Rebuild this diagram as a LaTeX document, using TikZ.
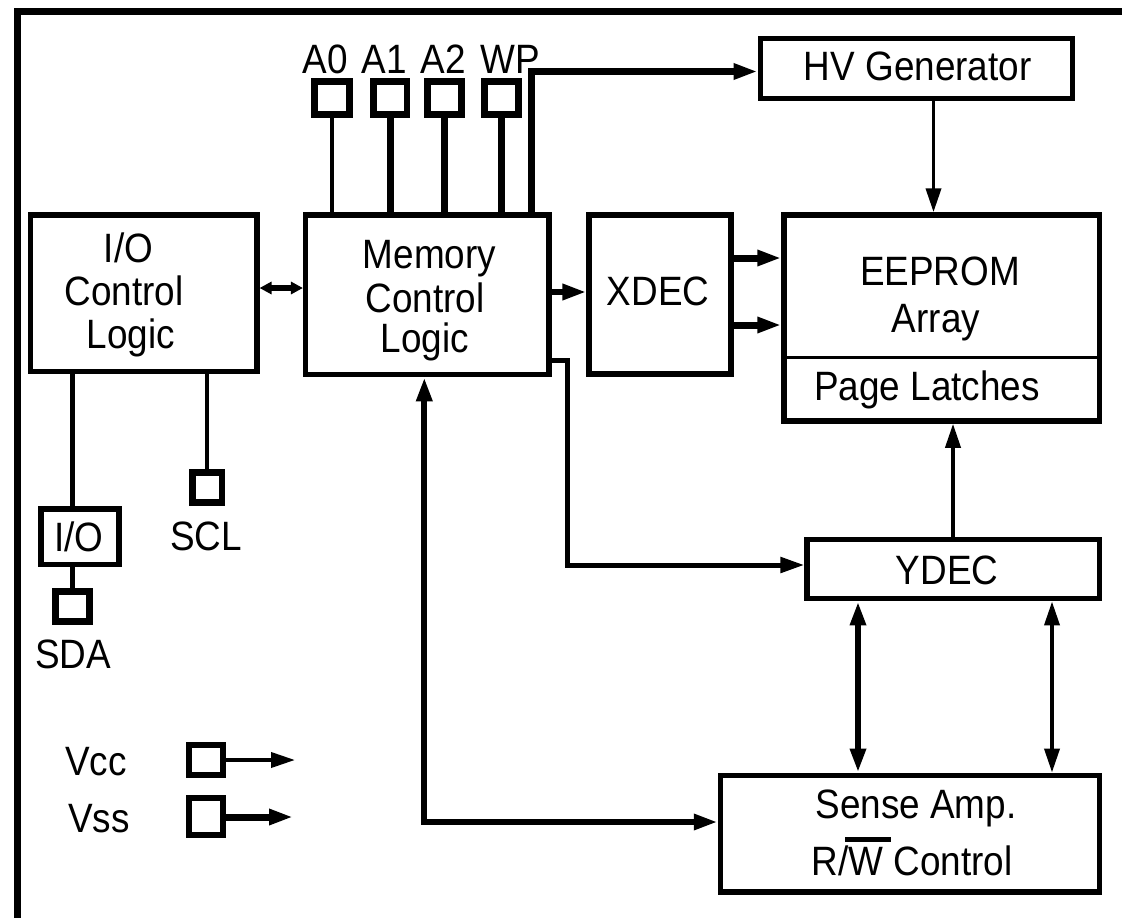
\documentclass[tikz,border=0pt]{standalone}
\usepackage{fontspec}
\setmainfont{Liberation Sans}[FakeStretch=0.9]
\usetikzlibrary{arrows.meta}
\tikzset{
  blk/.style={draw, line width=5.5pt, inner sep=0pt},
  pinbox/.style={draw, line width=6.5pt, inner sep=0pt},
  lbl/.style={anchor=base, inner sep=0pt},
  thickw/.style={line width=6.5pt},
  midw/.style={line width=5pt},
  thinw/.style={line width=3.8pt},
  arr/.style={-{Triangle[length=24pt,width=15pt]}},
  darr/.style={{Triangle[length=24pt,width=15pt]}-{Triangle[length=24pt,width=15pt]}},
  sdarr/.style={{Triangle[length=12pt,width=12pt]}-{Triangle[length=12pt,width=12pt]}}
}
\begin{document}
\begin{tikzpicture}[x=1pt,y=-1pt,font=\fontsize{41}{45}\selectfont]
\useasboundingbox (0,0) rectangle (1122,918);
\clip (0,0) rectangle (1122,918);
\fill[white] (0,0) rectangle (1122,918);
% frame
\draw[line width=6.5pt] (17.5,11.7) rectangle (1160,960);

% main blocks
\node[blk, minimum width=226.1pt, minimum height=156.7pt] (ioc) at (143.75,293.35) {};
\node[blk, minimum width=243.3pt, minimum height=159.5pt] (mcl) at (427.35,294.75) {};
\node[blk, minimum width=141.8pt, minimum height=159.2pt] (xdec) at (660.1,294.6) {};
\node[blk, minimum width=315.6pt, minimum height=206pt] (ee) at (941.8,318) {};
\node[blk, minimum width=312pt, minimum height=60pt] (hv) at (916.3,68.3) {};
\node[blk, minimum width=292.4pt, minimum height=59pt] (ydec) at (953.4,569.2) {};
\node[blk, minimum width=379.1pt, minimum height=116.7pt] (sense) at (910.05,833.65) {};

% EEPROM divider
\coordinate (divy) at (0,357.3);
\draw[line width=3.5pt] (ee.west |- divy) -- (ee.east |- divy);

% pins
\node[pinbox, minimum width=35pt, minimum height=33pt] (a0) at (331.75,98) {};
\node[pinbox, minimum width=33.5pt, minimum height=33pt] (a1) at (390.25,98) {};
\node[pinbox, minimum width=34pt, minimum height=33pt] (a2) at (444.5,98) {};
\node[pinbox, minimum width=34pt, minimum height=33pt] (wp) at (501.5,98) {};
\node[blk, minimum width=78pt, minimum height=55.7pt] (io) at (80,536.65) {};
\node[pinbox, minimum width=34.4pt, minimum height=29.6pt] (sda) at (72.5,606.5) {};
\node[pinbox, minimum width=29.5pt, minimum height=29.6pt] (scl) at (207.25,487.5) {};
\node[pinbox, line width=6pt, minimum width=33.7pt, minimum height=29.4pt] (vcc) at (205.85,760) {};
\node[pinbox, line width=6pt, minimum width=33.7pt, minimum height=36.7pt] (vss) at (205.85,816.65) {};

% texts
\node[lbl] (ta0) at (325,73) {A0};
\node[lbl] (ta1) at (384,73) {A1};
\node[lbl] (ta2) at (443,73) {A2};
\node[lbl] (twp) at (510,73) {WP};
\node[lbl] (tioc1) at (128.6,262) {I/O};
\node[lbl] (tioc2) at (124,305) {Control};
\node[lbl] (tioc3) at (131,348) {Logic};
\node[lbl] (tmcl1) at (429.5,268) {Memory};
\node[lbl] (tmcl2) at (425,312) {Control};
\node[lbl] (tmcl3) at (425,352) {Logic};
\node[lbl] (txdec) at (658,305) {XDEC};
\node[lbl] (thv) at (917.7,80) {HV Generator};
\node[lbl] (tee1) at (940,285) {EEPROM};
\node[lbl] (tee2) at (936,332) {Array};
\node[lbl] (tpl) at (927,400) {Page Latches};
\node[lbl] (tydec) at (947,584) {YDEC};
\node[lbl] (ts1) at (916,818) {Sense Amp.};
\node[lbl] (ts2) at (912,875) {R/\makebox[0pt][l]{\kern-3pt\rule[33pt]{46pt}{5pt}}W Control};
\node[lbl] (tio) at (79,551) {I/O};
\node[lbl] (tscl) at (206,550) {SCL};
\node[lbl] (tsda) at (73,668) {SDA};
\node[lbl] (tvcc) at (96,775) {Vcc};
\node[lbl] (tvss) at (99,832) {Vss};

% pin wires
\draw[thinw] (a0.south) -- (a0.south |- mcl.north);
\draw[thickw] (a1.south) -- (a1.south |- mcl.north);
\draw[thickw] (a2.south) -- (a2.south |- mcl.north);
\draw[thickw] (wp.south) -- (wp.south |- mcl.north);
\coordinate (hvturn) at (531,71.5);
\draw[line width=7pt, arr] (hvturn |- mcl.north) -- (hvturn) -- (hvturn -| hv.west);

% HV -> EEPROM
\coordinate (hvx) at (933.5,0);
\draw[thinw, arr] (hv.south -| hvx) -- (ee.north -| hvx);

% IOC <-> MCL
\coordinate (yio) at (0,288);
\draw[line width=6pt, sdarr] (ioc.east |- yio) -- (mcl.west |- yio);

% MCL -> XDEC
\coordinate (yx) at (0,292);
\draw[thickw, arr] (mcl.east |- yx) -- (xdec.west |- yx);

% XDEC -> EEPROM
\coordinate (yx1) at (0,258);
\coordinate (yx2) at (0,325);
\draw[line width=7pt, arr] (xdec.east |- yx1) -- (ee.west |- yx1);
\draw[line width=7pt, arr] (xdec.east |- yx2) -- (ee.west |- yx2);

% MCL -> YDEC
\coordinate (my1) at (567.8,360);
\coordinate (my2) at (567.8,565);
\draw[midw, arr] (mcl.east |- my1) -- (my1) -- (my2) -- (ydec.west |- my2);

% YDEC -> Page latches
\coordinate (ypx) at (953,0);
\draw[thinw, arr] (ydec.north -| ypx) -- (ee.south -| ypx);

% YDEC <-> Sense
\coordinate (ys1) at (858,0);
\coordinate (ys2) at (1052,0);
\draw[line width=6.7pt, darr] (ydec.south -| ys1) -- (sense.north -| ys1);
\draw[thinw, darr] (ydec.south -| ys2) -- (sense.north -| ys2);

% MCL <-> Sense
\coordinate (ms) at (424.3,822);
\draw[line width=6.2pt, darr] (mcl.south -| ms) -- (ms) -- (sense.west |- ms);

% IO wires
\draw[midw] (ioc.south -| sda.north) -- (io.north -| sda.north);
\draw[midw] (io.south -| sda.north) -- (sda.north);
\draw[thinw] (ioc.south -| scl.north) -- (scl.north);

% Vcc / Vss
\coordinate (vcce) at (295,760);
\coordinate (vsse) at (293,817);
\draw[thinw, arr] (vcc.east) -- (vcce);
\draw[line width=7pt, arr] (vss.east |- vsse) -- (vsse);
\end{tikzpicture}
\end{document}
